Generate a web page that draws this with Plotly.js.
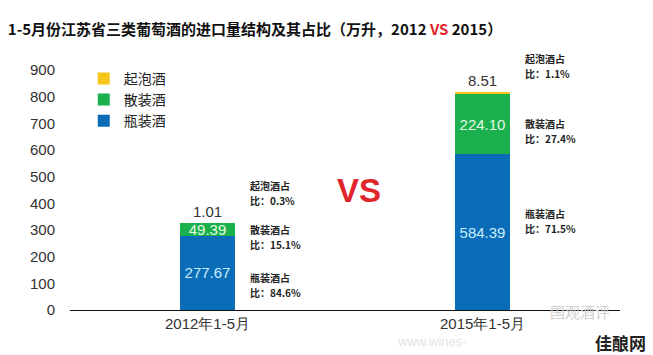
<!DOCTYPE html>
<html><head><meta charset="utf-8">
<script src="https://cdn.plot.ly/plotly-3.0.1.min.js"></script>
<style>body{margin:0;background:#fff}#c{width:653px;height:355px}</style>
</head><body><div id="c"></div>
<script>
const categories = ['2012年1-5月', '2015年1-5月'];
const bottled = [277.67, 584.39];
const bulk = [49.39, 224.10];
const sparkling = [1.01, 8.51];
const seriesNames = ['瓶装酒', '散装酒', '起泡酒'];
const shareBottled = ['84.6%', '71.5%'];
const shareBulk = ['15.1%', '27.4%'];
const shareSparkling = ['0.3%', '1.1%'];
const yTicks = [0,100,200,300,400,500,600,700,800,900];

const numFont = 'Liberation Sans Narrow, Arial Narrow, Liberation Sans, Arial, sans-serif';
const cjk = 'Noto Sans CJK SC, sans-serif';

const traces = [
  {type:'bar', name:seriesNames[0], x:categories, y:bottled, marker:{color:'#0b6cb8'},
   width:0.2, text:bottled.map(v=>v.toFixed(2)), textposition:'inside', insidetextanchor:'middle',
   textangle:0, constraintext:'none',
   textfont:{family:numFont,size:15,color:'#c9efff'}, hoverinfo:'none'},
  {type:'bar', name:seriesNames[1], x:categories, y:bulk, marker:{color:'#1bb04e'},
   width:0.2, text:bulk.map(v=>v.toFixed(2)), textposition:'inside', insidetextanchor:'middle',
   textangle:0, constraintext:'none',
   textfont:{family:numFont,size:15,color:'#e4fbe4'}, hoverinfo:'none'},
  {type:'bar', name:seriesNames[2], x:categories, y:sparkling, marker:{color:'#f6c51a'},
   width:0.2, text:sparkling.map(v=>v.toFixed(2)), textposition:'outside', cliponaxis:false,
   textangle:0, constraintext:'none',
   textfont:{family:numFont,size:15,color:'#333'}, hoverinfo:'none'}
];

// share-label placement, as fractions of the plot height
const sharePos = {
  bottled:[0.108, 0.374],
  bulk:[0.305, 0.75],
  sparkling:[0.49, 1.02]
};

const ann = [];
[0,1].forEach(i=>{
  [['瓶装酒', shareBottled, sharePos.bottled],
   ['散装酒', shareBulk, sharePos.bulk],
   ['起泡酒', shareSparkling, sharePos.sparkling]].forEach(([nm, arr, pos])=>{
    ann.push({x:categories[i], xref:'x', xshift:40, y:pos[i], yref:'paper', yshift:7, xanchor:'left', yanchor:'middle', align:'left',
      text:'<b>'+nm+'占</b>', showarrow:false, font:{family:cjk,size:10,color:'#222'}});
    ann.push({x:categories[i], xref:'x', xshift:40, y:pos[i], yref:'paper', yshift:-8, xanchor:'left', yanchor:'middle', align:'left',
      text:'<b>比：'+arr[i]+'</b>', showarrow:false, font:{family:cjk,size:10,color:'#222'}});
  });
});
ann.push({x:0.525, xref:'paper', y:0.5, yref:'paper', text:'<b>VS</b>', showarrow:false,
  font:{family:'Liberation Sans, Arial, sans-serif', size:33, color:'#e0262c'}});
// watermarks
ann.push({x:0.985, xref:'paper', y:-0.005, yref:'paper', yanchor:'middle', text:'国观酒评', showarrow:false,
  font:{family:cjk,size:15,color:'#d0d0d0'}});
ann.push({x:1.05, xref:'paper', y:-0.135, yref:'paper', xanchor:'right', yanchor:'middle', text:'<b>佳酿网</b>', showarrow:false,
  font:{family:cjk,size:17,color:'#222'}});
ann.push({x:0.59, xref:'paper', y:-0.13, yref:'paper', xanchor:'left', yanchor:'middle', text:'www.wines-', showarrow:false,
  font:{family:'Liberation Sans, sans-serif',size:13,color:'#e4e4e4'}});

const layout = {
  width:653, height:355,
  margin:{l:70, r:33, t:70, b:45},
  paper_bgcolor:'#fff', plot_bgcolor:'#fff',
  barmode:'stack',
  title:{text:'<b>1-5月份江苏省三类葡萄酒的进口量结构及其占比（万升，2012 <span style="color:#e0262c">VS</span> 2015）</b>',
    x:0.012, xanchor:'left', y:0.915, yanchor:'middle', font:{family:cjk,size:15,color:'#111'}},
  xaxis:{type:'category', range:[-0.5,1.5], showline:true, linecolor:'#111', linewidth:1, ticks:'',
    tickfont:{family:numFont,size:15,color:'#333'}, showgrid:false, zeroline:false},
  yaxis:{range:[0,900], tickvals:yTicks, showgrid:false, zeroline:false, showline:false, ticks:'',
    tickfont:{family:numFont,size:15,color:'#333'}, ticklabelstandoff:14},
  showlegend:true,
  legend:{x:0.025, y:1.03, xanchor:'left', yanchor:'top', traceorder:'reversed',
    font:{family:cjk,size:14,color:'#222'}, itemwidth:30, tracegroupgap:0, bgcolor:'rgba(0,0,0,0)'},
  annotations:ann
};
Plotly.newPlot('c', traces, layout, {displayModeBar:false, staticPlot:true});
</script></body></html>
